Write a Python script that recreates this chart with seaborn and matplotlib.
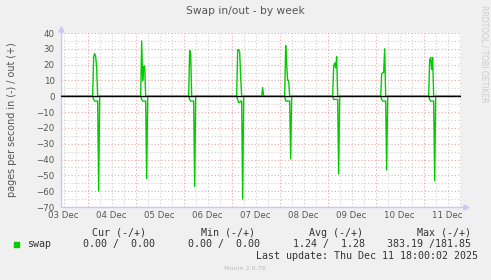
import matplotlib
matplotlib.use("Agg")
import numpy as np
import pandas as pd
import seaborn as sns
import matplotlib.pyplot as plt
import matplotlib.dates as mdates
from matplotlib.ticker import MultipleLocator, FuncFormatter, NullFormatter
from matplotlib.patches import Rectangle
from matplotlib.lines import Line2D

# ---------------- data ----------------
event_days = ["2025-12-04", "2025-12-05", "2025-12-06", "2025-12-07",
              "2025-12-08", "2025-12-09", "2025-12-10", "2025-12-11"]
event_slots = ["03:00", "03:30", "04:00", "04:30", "05:00", "05:30"]

# pages/s swapped out (+), one row per day, one value per slot
swap_out = [
    [25.0, 27.0, 25.0, 18.0, 0.0, 0.0],
    [35.0, 10.0, 19.0, 19.0, 0.0, 0.0],
    [29.0, 27.0, 0.0, 0.0, 0.0, 0.0],
    [29.5, 29.5, 28.0, 12.0, 0.0, 0.0],
    [32.0, 20.0, 10.0, 10.0, 0.0, 0.0],
    [19.0, 21.0, 18.0, 25.0, 0.0, 0.0],
    [14.0, 15.0, 15.0, 30.0, 0.0, 0.0],
    [23.0, 24.5, 17.0, 24.5, 0.0, 0.0],
]
# pages/s swapped in (drawn as negative)
swap_in = [
    [2.0, 3.0, 3.0, 3.0, 3.0, 60.0],
    [2.0, 3.0, 3.0, 3.0, 3.0, 52.0],
    [2.0, 3.0, 3.0, 3.0, 3.0, 57.0],
    [2.0, 4.0, 4.0, 3.0, 3.0, 65.0],
    [3.0, 3.0, 3.0, 3.0, 3.0, 39.5],
    [2.0, 2.0, 2.0, 2.0, 2.0, 49.0],
    [2.0, 3.0, 3.0, 3.0, 3.0, 46.5],
    [2.0, 3.0, 3.0, 3.0, 3.0, 53.5],
]
extra_out_times = ["2025-12-07 15:30"]
extra_out_values = [5.5]

range_start = "2025-12-03 10:40"
range_end = "2025-12-11 18:40"

legend_headers = ["Cur (-/+)", "Min (-/+)", "Avg (-/+)", "Max (-/+)"]
legend_values = ["0.00 /  0.00", "0.00 /  0.00", "1.24 /  1.28", "383.19 /181.85"]
last_update = "Last update: Thu Dec 11 18:00:02 2025"

# ---------------- build series ----------------
index = pd.date_range("2025-12-03 10:30", "2025-12-11 18:30", freq="30min")
out_s = pd.Series(0.0, index=index)
in_s = pd.Series(0.0, index=index)
for d, ov, iv in zip(event_days, swap_out, swap_in):
    for slot, o, i in zip(event_slots, ov, iv):
        t = pd.Timestamp(f"{d} {slot}")
        out_s[t] = o
        in_s[t] = i
for t, v in zip(extra_out_times, extra_out_values):
    out_s[pd.Timestamp(t)] = v

df = pd.concat([
    pd.DataFrame({"time": index, "value": out_s.values, "series": "out"}),
    pd.DataFrame({"time": index, "value": -in_s.values, "series": "in"}),
])

# ---------------- figure ----------------
sns.set_theme(style="white")
plt.rcParams["font.family"] = ["DejaVu Sans"]

W, H = 491, 280
fig = plt.figure(figsize=(W / 100, H / 100), dpi=100, facecolor="#f0f0f0")
ax = fig.add_axes([61 / W, 1 - 207 / H, 400 / W, 174 / H])
ax.set_facecolor("white")

def fx(x):
    return x / W

def fy(y):
    return 1 - y / H

green = "#00cc00"
sns.lineplot(data=df, x="time", y="value", hue="series", units="series",
             estimator=None, palette={"out": green, "in": green},
             legend=False, linewidth=1.0, ax=ax, zorder=3)
ax.axhline(0, color="black", linewidth=1.0, zorder=4)

ax.set_xlim(pd.Timestamp(range_start), pd.Timestamp(range_end))
ax.set_ylim(-70, 40)

ax.xaxis.set_major_locator(mdates.HourLocator(byhour=[0]))
ax.xaxis.set_major_formatter(NullFormatter())
ax.xaxis.set_minor_locator(mdates.HourLocator(byhour=[6, 12, 18]))

def xfmt(v, pos):
    d = mdates.num2date(v)
    return d.strftime("%d %b") if d.hour == 12 else ""

ax.xaxis.set_minor_formatter(FuncFormatter(xfmt))
ax.yaxis.set_major_locator(MultipleLocator(10))
ax.yaxis.set_minor_locator(MultipleLocator(5))

ax.set_axisbelow(True)
ax.grid(which="major", color="#f2a6a6", linestyle=(0, (1, 2)), linewidth=0.8)
ax.grid(which="minor", color="#cfcfcf", linestyle=(0, (1, 2)), linewidth=0.8)
ax.tick_params(which="both", length=0, labelsize=6.2, colors="#555555")
ax.tick_params(axis="y", pad=4.5)
ax.tick_params(axis="x", which="both", pad=3.0)
ax.set_xlabel("")
ax.set_ylabel("")

for s in ax.spines.values():
    s.set_visible(False)

axis_col = "#c8c8f4"
ax.add_line(Line2D([0, 0], [0, 1.02], transform=ax.transAxes, color=axis_col,
                   lw=1, clip_on=False, zorder=2))
ax.add_line(Line2D([0, 1.01], [0, 0], transform=ax.transAxes, color=axis_col,
                   lw=1, clip_on=False, zorder=2))
ax.plot([0], [1.025], marker="^", ms=3.5, color=axis_col, transform=ax.transAxes,
        clip_on=False)
ax.plot([1.012], [0], marker=">", ms=3.5, color=axis_col, transform=ax.transAxes,
        clip_on=False)

# texts
fig.text(fx(245.5), fy(11.5), "Swap in/out - by week", ha="center", va="center",
         fontsize=7.7, color="#555555")
fig.text(fx(12), fy(120), "pages per second in (-) / out (+)", rotation=90,
         ha="center", va="center", fontsize=6.9, color="#555555")
fig.text(fx(484), fy(5), "RRDTOOL / TOBI OETIKER", rotation=270, ha="center",
         va="top", fontsize=5.5, color="#cccccc")

mono = "DejaVu Sans Mono"
tcol = "#333333"
header_x = [92, 201, 309, 417]
value_x = [83, 188, 293, 387]
for hx, h in zip(header_x, legend_headers):
    fig.text(fx(hx), fy(232.7), h, ha="left", va="center", fontsize=7.2,
             family=mono, color=tcol)
fig.patches.append(Rectangle((fx(14), fy(247)), 5 / W, 5 / H,
                             transform=fig.transFigure, color=green))
fig.text(fx(26.7), fy(244), "swap", ha="left", va="center", fontsize=7.2,
         family=mono, color=tcol)
for vx, v in zip(value_x, legend_values):
    fig.text(fx(vx), fy(244), v, ha="left", va="center", fontsize=7.2,
             family=mono, color=tcol)
fig.text(fx(256), fy(256.3), last_update, ha="left", va="center", fontsize=7.2,
         family=mono, color=tcol)
fig.text(fx(245), fy(268.3), "Munin 2.0.76", ha="center", va="center",
         fontsize=4.6, color="#bbbbbb")

fig.savefig("out.png", dpi=100, facecolor=fig.get_facecolor())
